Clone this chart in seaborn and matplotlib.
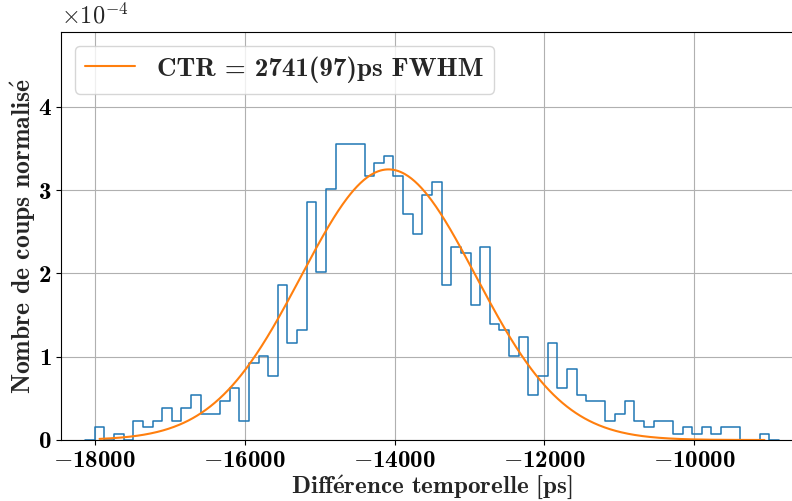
import numpy as np
import pandas as pd
import matplotlib
matplotlib.use('Agg')
from matplotlib import pyplot as plt
from matplotlib.ticker import FuncFormatter, MultipleLocator
import seaborn as sns

sns.set_style('ticks')
plt.rcParams['mathtext.fontset'] = 'cm'
plt.rcParams['font.family'] = 'cmb10'
plt.rcParams['axes.unicode_minus'] = False

# histogram: 70 bins between -18000 and -9000 ps, counts per bin
hist_start, hist_stop, n_bins = -18000, -9000, 70
counts = [2, 0, 1, 0, 3, 2, 3, 5, 3, 5,
          7, 4, 4, 6, 8, 3, 12, 13, 10, 24,
          15, 17, 37, 26, 39, 46, 46, 46, 41, 43,
          44, 41, 35, 32, 38, 40, 24, 30, 29, 21,
          30, 18, 17, 13, 16, 7, 10, 15, 8, 11,
          7, 6, 6, 3, 4, 6, 3, 2, 3, 3,
          1, 2, 1, 2, 1, 2, 2, 0, 0, 1]

# gaussian fit
fit_mu = -14080
fit_fwhm = 2741
fit_amp = 3.25e-4
legend_label = 'CTR = 2741(97)ps FWHM'

# plain cmb10 text, accented e through mathtext
xlabel = r'Diff$\acute{\mathbf{e}}$rence temporelle [ps]'
ylabel = r'Nombre de coups normalis$\acute{\mathbf{e}}$'

edges = np.linspace(hist_start, hist_stop, n_bins + 1)
width = edges[1] - edges[0]
centers = (edges[:-1] + edges[1:]) / 2
# one empty bin on each side so the outline drops to zero at the ends
pad_edges = np.r_[edges[0] - width, edges, edges[-1] + width]
pad_centers = (pad_edges[:-1] + pad_edges[1:]) / 2
pad_counts = np.r_[0, counts, 0]

# density normalised with the real number of entries
norm = np.sum(counts) * width
df = pd.DataFrame({'t': pad_centers, 'w': pad_counts / norm})

sigma = fit_fwhm / (2 * np.sqrt(2 * np.log(2)))
xs = np.linspace(centers[0], centers[-1], 600)
ys = fit_amp * np.exp(-(xs - fit_mu) ** 2 / (2 * sigma ** 2))

fig = plt.figure(figsize=(7.92, 5.01), dpi=100)
ax = fig.add_axes([61 / 792, 61 / 501, (803 - 61) / 792, (440 - 32) / 501])

sns.histplot(data=df, x='t', weights='w', bins=pad_edges.tolist(),
             element='step', fill=False, color='#1f77b4', linewidth=1.1, ax=ax)
sns.lineplot(x=xs, y=ys, color='#ff7f0e', linewidth=1.5, label=legend_label, ax=ax)


def xfmt(v, p):
    return (r'$-$' if v < 0 else '') + '%d' % abs(v)


ax.set_xlim(-18450, -8550)
ax.set_ylim(0, 4.9e-4)
ax.yaxis.set_major_locator(MultipleLocator(1e-4))
ax.xaxis.set_major_formatter(FuncFormatter(xfmt))
ax.yaxis.set_major_formatter(FuncFormatter(lambda v, p: '%d' % round(v * 1e4)))
ax.tick_params(labelsize=18, colors='black')
ax.text(0, 1.008, r'$\times\mathrm{10}^{-4}$', transform=ax.transAxes,
        ha='left', va='bottom', fontsize=17.5)
ax.grid(True, color='#b0b0b0', linewidth=0.8)
for s in ax.spines.values():
    s.set_color('black')

ax.set_xlabel(xlabel, fontsize=18, labelpad=1)
ax.set_ylabel(ylabel, fontsize=18.5, labelpad=0.5)
ax.legend(loc='upper left', fontsize=19.5, framealpha=0.8, edgecolor='0.8',
          fancybox=True, handlelength=1.85)

fig.savefig('out.png', dpi=100)
